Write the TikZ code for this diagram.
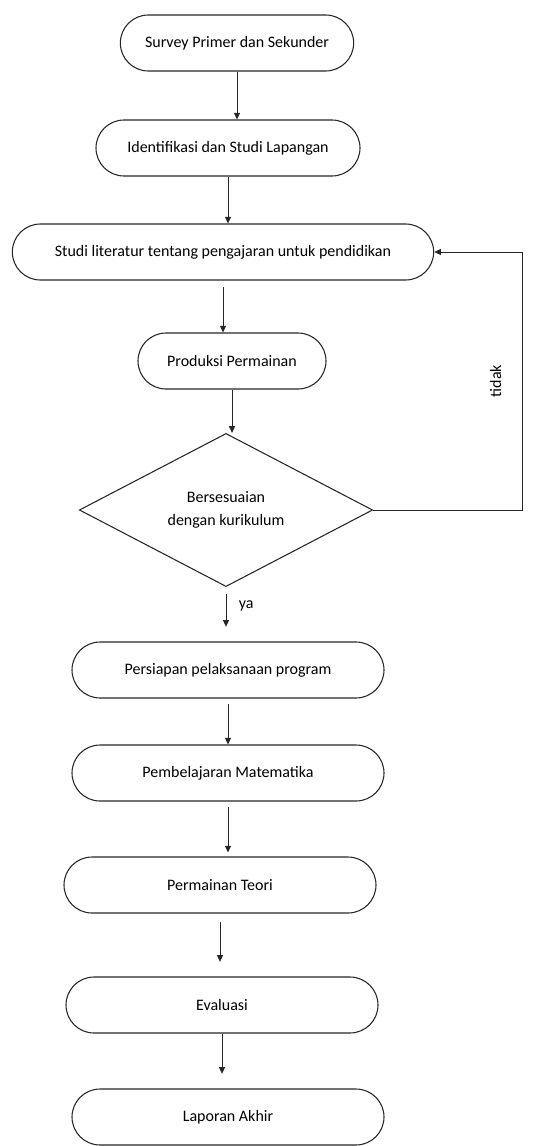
\documentclass[tikz,border=0pt]{standalone}
\usepackage{fontspec}
\setmainfont{Carlito}
\usetikzlibrary{shapes.misc,shapes.geometric,arrows.meta}

\tikzset{
	proses/.style={rounded rectangle, draw=black!85, line width=0.8pt, minimum height=42pt, inner sep=2pt, align=center},
	putusan/.style={diamond, draw=black!85, line width=0.8pt, minimum width=220pt, minimum height=101pt, inner sep=0pt, align=center},
	alur/.style={draw=black!85, line width=0.6pt, -{Triangle[length=5pt,width=4.5pt]}}
}

\begin{document}
\begin{tikzpicture}[x=0.75pt,y=-0.75pt,font=\fontsize{12}{17}\selectfont]
	\useasboundingbox (0,0) rectangle (544,1146);

	\node[proses, minimum width=179pt] (survey) at (237,43) {Survey Primer dan Sekunder};
	\node[proses, minimum width=202pt] (identifikasi) at (228,148) {Identifikasi dan Studi Lapangan};
	\node[proses, minimum width=320pt] (literatur) at (223,252) {Studi literatur tentang pengajaran untuk pendidikan};
	\node[proses, minimum width=145pt] (produksi) at (232,361) {Produksi Permainan};
	\node[putusan] (sesuai) at (226,510) {Bersesuaian\\dengan kurikulum};
	\node[proses, minimum width=238pt] (persiapan) at (228,670) {Persiapan pelaksanaan program};
	\node[proses, minimum width=238pt] (belajar) at (228,773) {Pembelajaran Matematika};
	\node[proses, minimum width=238pt] (teori) at (220,885) {Permainan Teori};
	\node[proses, minimum width=238pt] (evaluasi) at (222,1005) {Evaluasi};
	\node[proses, minimum width=238pt] (laporan) at (228,1117) {Laporan Akhir};

	\coordinate (balik) at (522,510);

	\draw[alur] (survey.south) -- (survey.south |- identifikasi.north);
	\draw[alur] (identifikasi.south) -- (identifikasi.south |- literatur.north);
	\draw[alur, shorten <=5pt] (literatur.south) -- (literatur.south |- produksi.north);
	\draw[alur] (produksi.south) -- (produksi.south |- sesuai.north);
	\draw[alur, shorten <=5pt, shorten >=11pt] (sesuai.south) -- node[right=6pt, pos=0.35]{ya} (sesuai.south |- persiapan.north);
	\draw[alur, shorten <=4pt] (persiapan.south) -- (persiapan.south |- belajar.north);
	\draw[alur, shorten <=4pt, shorten >=3pt] (belajar.south) -- (belajar.south |- teori.north);
	\draw[alur, shorten <=6pt, shorten >=11pt] (teori.south) -- (teori.south |- evaluasi.north);
	\draw[alur, shorten >=11pt] (evaluasi.south) -- (evaluasi.south |- laporan.north);

	\draw[alur] (sesuai.east) -- (balik) |- node[pos=0.25, left=12pt, rotate=90, anchor=south]{tidak} (literatur.east);
\end{tikzpicture}
\end{document}
